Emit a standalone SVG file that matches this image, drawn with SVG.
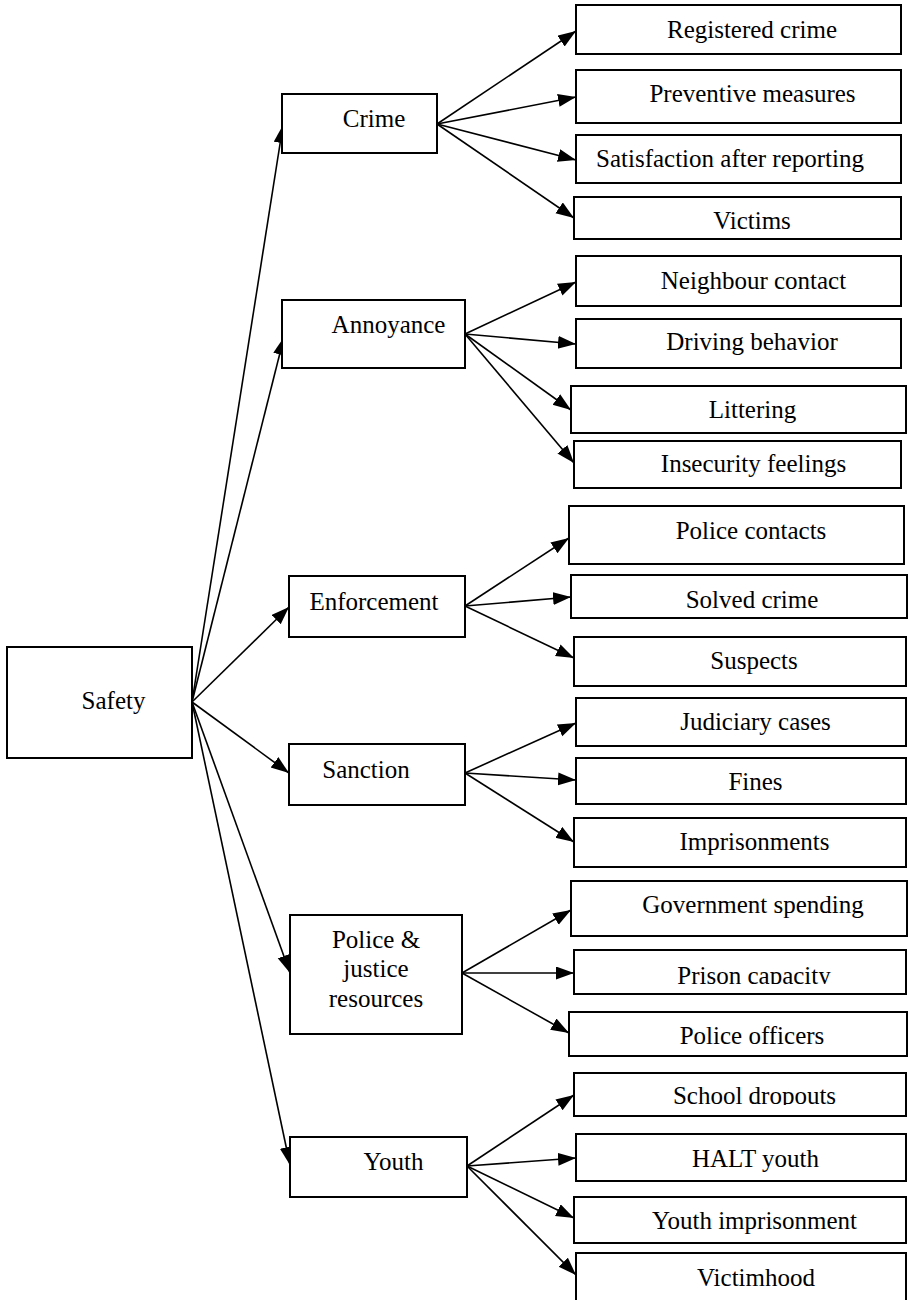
<svg xmlns="http://www.w3.org/2000/svg" width="908" height="1300" viewBox="0 0 908 1300">
  <style>
    .box { fill: #ffffff; stroke: #000000; stroke-width: 2; }
    .lbl { font-family: "Liberation Serif", "Times New Roman", serif; font-size: 25px; fill: #000000; text-anchor: middle; }
    .edge { stroke: #000000; stroke-width: 1.6; fill: none; marker-end: url(#arrow); }
  </style>
  <defs>
    <marker id="arrow" markerUnits="userSpaceOnUse" markerWidth="20" markerHeight="14" refX="18" refY="6.5" orient="auto">
      <path d="M0,0 L18,6.5 L0,13 z" fill="#000000"/>
    </marker>
    <clipPath id="clipPrison"><rect x="560" y="940" width="348" height="44"/></clipPath>
    <clipPath id="clipSchool"><rect x="560" y="1060" width="348" height="45"/></clipPath>
  </defs>
  <rect width="908" height="1300" fill="#ffffff"/>

  <!-- connectors -->
  <g id="connectors">
    <!-- Safety to main themes -->
    <line class="edge" x1="192" y1="702" x2="283" y2="125"/>
    <line class="edge" x1="192" y1="702" x2="284" y2="337"/>
    <line class="edge" x1="192" y1="702" x2="289" y2="607"/>
    <line class="edge" x1="192" y1="702" x2="289" y2="773"/>
    <line class="edge" x1="192" y1="702" x2="290" y2="973"/>
    <line class="edge" x1="192" y1="702" x2="290" y2="1165"/>
    <!-- Crime -->
    <line class="edge" x1="437" y1="124" x2="576" y2="31"/>
    <line class="edge" x1="437" y1="124" x2="576" y2="97"/>
    <line class="edge" x1="437" y1="124" x2="576" y2="160"/>
    <line class="edge" x1="437" y1="124" x2="574" y2="218"/>
    <!-- Annoyance -->
    <line class="edge" x1="465" y1="334" x2="576" y2="282"/>
    <line class="edge" x1="465" y1="334" x2="576" y2="344"/>
    <line class="edge" x1="465" y1="334" x2="571" y2="410"/>
    <line class="edge" x1="465" y1="334" x2="574" y2="463"/>
    <!-- Enforcement -->
    <line class="edge" x1="465" y1="606" x2="569" y2="538"/>
    <line class="edge" x1="465" y1="606" x2="571" y2="597"/>
    <line class="edge" x1="465" y1="606" x2="574" y2="658"/>
    <!-- Sanction -->
    <line class="edge" x1="465" y1="773" x2="576" y2="723"/>
    <line class="edge" x1="465" y1="773" x2="576" y2="780"/>
    <line class="edge" x1="465" y1="773" x2="574" y2="842"/>
    <!-- Police & justice resources -->
    <line class="edge" x1="462" y1="973" x2="571" y2="910"/>
    <line class="edge" x1="462" y1="973" x2="574" y2="973"/>
    <line class="edge" x1="462" y1="973" x2="569" y2="1033"/>
    <!-- Youth -->
    <line class="edge" x1="467" y1="1166" x2="574" y2="1095"/>
    <line class="edge" x1="467" y1="1166" x2="576" y2="1158"/>
    <line class="edge" x1="467" y1="1166" x2="574" y2="1218"/>
    <line class="edge" x1="467" y1="1166" x2="576" y2="1275"/>
  </g>

  <!-- root -->
  <g id="safety">
    <rect class="box" x="7" y="647" width="185" height="111"/>
    <text class="lbl" x="113.5" y="709">Safety</text>
  </g>

  <!-- main themes -->
  <g id="crime">
    <rect class="box" x="282" y="94" width="155" height="59"/>
    <text class="lbl" x="374" y="127">Crime</text>
  </g>
  <g id="annoyance">
    <rect class="box" x="282" y="300" width="183" height="68"/>
    <text class="lbl" x="388.5" y="333">Annoyance</text>
  </g>
  <g id="enforcement">
    <rect class="box" x="289" y="576" width="176" height="61"/>
    <text class="lbl" x="374" y="610">Enforcement</text>
  </g>
  <g id="sanction">
    <rect class="box" x="289" y="744" width="176" height="61"/>
    <text class="lbl" x="366" y="778">Sanction</text>
  </g>
  <g id="resources">
    <rect class="box" x="290" y="915" width="172" height="119"/>
    <text class="lbl" x="376" y="948">Police &amp;</text>
    <text class="lbl" x="376" y="977">justice</text>
    <text class="lbl" x="376" y="1007">resources</text>
  </g>
  <g id="youth">
    <rect class="box" x="290" y="1137" width="177" height="60"/>
    <text class="lbl" x="393.5" y="1170">Youth</text>
  </g>

  <!-- indicators: crime -->
  <g id="registered-crime">
    <rect class="box" x="576" y="5" width="325" height="49"/>
    <text class="lbl" x="752" y="38">Registered crime</text>
  </g>
  <g id="preventive-measures">
    <rect class="box" x="576" y="70" width="325" height="53"/>
    <text class="lbl" x="752.5" y="102">Preventive measures</text>
  </g>
  <g id="satisfaction">
    <rect class="box" x="576" y="135" width="325" height="48"/>
    <text class="lbl" x="730" y="167">Satisfaction after reporting</text>
  </g>
  <g id="victims">
    <rect class="box" x="574" y="197" width="327" height="42"/>
    <text class="lbl" x="752" y="229">Victims</text>
  </g>

  <!-- indicators: annoyance -->
  <g id="neighbour-contact">
    <rect class="box" x="576" y="256" width="325" height="50"/>
    <text class="lbl" x="753.5" y="289">Neighbour contact</text>
  </g>
  <g id="driving-behavior">
    <rect class="box" x="576" y="319" width="325" height="49"/>
    <text class="lbl" x="752" y="350">Driving behavior</text>
  </g>
  <g id="littering">
    <rect class="box" x="571" y="386" width="335" height="47"/>
    <text class="lbl" x="752.5" y="418">Littering</text>
  </g>
  <g id="insecurity-feelings">
    <rect class="box" x="574" y="441" width="327" height="47"/>
    <text class="lbl" x="753.5" y="472">Insecurity feelings</text>
  </g>

  <!-- indicators: enforcement -->
  <g id="police-contacts">
    <rect class="box" x="569" y="506" width="335" height="58"/>
    <text class="lbl" x="751" y="539">Police contacts</text>
  </g>
  <g id="solved-crime">
    <rect class="box" x="571" y="575" width="336" height="43"/>
    <text class="lbl" x="752" y="608">Solved crime</text>
  </g>
  <g id="suspects">
    <rect class="box" x="574" y="637" width="332" height="49"/>
    <text class="lbl" x="754" y="669">Suspects</text>
  </g>

  <!-- indicators: sanction -->
  <g id="judiciary-cases">
    <rect class="box" x="576" y="698" width="330" height="48"/>
    <text class="lbl" x="755.5" y="730">Judiciary cases</text>
  </g>
  <g id="fines">
    <rect class="box" x="576" y="758" width="330" height="46"/>
    <text class="lbl" x="755.5" y="790">Fines</text>
  </g>
  <g id="imprisonments">
    <rect class="box" x="574" y="818" width="332" height="49"/>
    <text class="lbl" x="754.5" y="850">Imprisonments</text>
  </g>

  <!-- indicators: police & justice resources -->
  <g id="government-spending">
    <rect class="box" x="571" y="881" width="336" height="55"/>
    <text class="lbl" x="753" y="913">Government spending</text>
  </g>
  <g id="prison-capacity">
    <rect class="box" x="574" y="950" width="332" height="44"/>
    <text class="lbl" x="754" y="984" clip-path="url(#clipPrison)">Prison capacity</text>
  </g>
  <g id="police-officers">
    <rect class="box" x="569" y="1012" width="338" height="44"/>
    <text class="lbl" x="752" y="1044">Police officers</text>
  </g>

  <!-- indicators: youth -->
  <g id="school-dropouts">
    <rect class="box" x="574" y="1073" width="332" height="43"/>
    <text class="lbl" x="754.5" y="1104" clip-path="url(#clipSchool)">School dropouts</text>
  </g>
  <g id="halt-youth">
    <rect class="box" x="576" y="1134" width="330" height="47"/>
    <text class="lbl" x="755.5" y="1167">HALT youth</text>
  </g>
  <g id="youth-imprisonment">
    <rect class="box" x="574" y="1197" width="332" height="46"/>
    <text class="lbl" x="754.5" y="1229">Youth imprisonment</text>
  </g>
  <g id="victimhood">
    <rect class="box" x="576" y="1253" width="330" height="52"/>
    <text class="lbl" x="756" y="1286">Victimhood</text>
  </g>
</svg>
